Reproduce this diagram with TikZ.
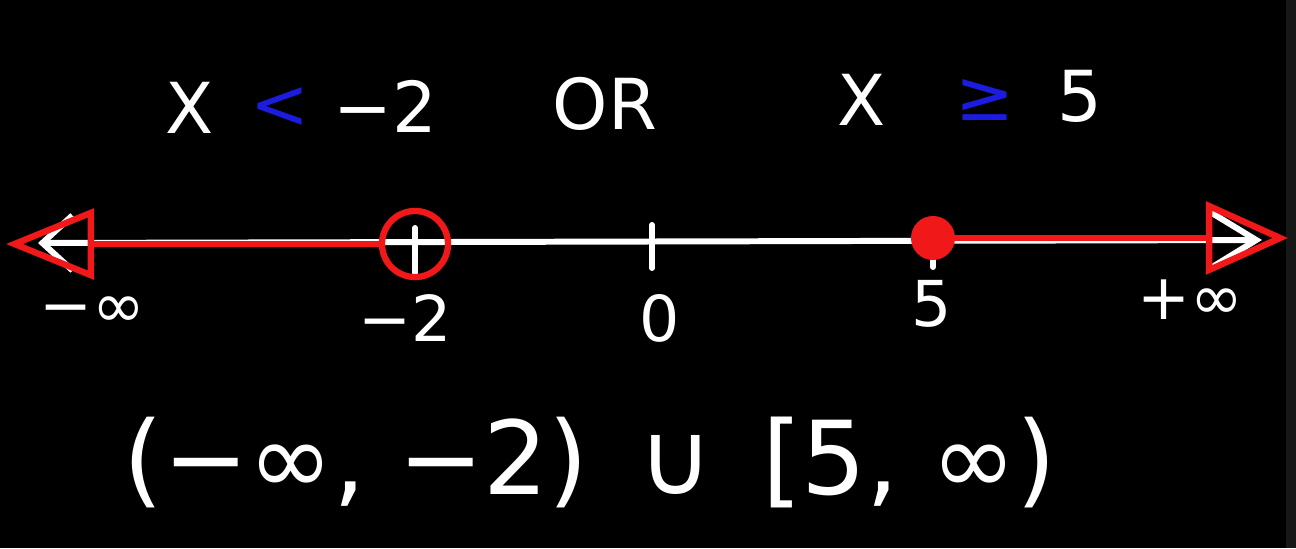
\documentclass[tikz,border=0pt]{standalone}
\usepackage{fontspec}
\setmainfont{DejaVu Sans}
\usepackage{xcolor}
\usetikzlibrary{arrows.meta}
\usetikzlibrary{positioning}
\definecolor{inkred}{HTML}{F01818}
\definecolor{inkblue}{HTML}{1C1CE0}

\begin{document}
\begin{tikzpicture}[x=0.01cm, y=-0.01cm,
		chalk/.style={white, line width=1.7pt, line cap=round},
		redink/.style={inkred, line width=1.8pt, line cap=round},
		toptext/.style={white, font=\fontsize{20}{24}\selectfont, inner sep=0pt},
		ticklabel/.style={white, font=\fontsize{18}{22}\selectfont, inner sep=0pt}]
				\fill[black] (0,0) rectangle (1296,548);
				\fill[gray!18!black] (1286,0) rectangle (1296,548);
				\useasboundingbox (0,0) rectangle (1296,548);
				
				% inequality
				\node[toptext] (xa) at (190,108) {X};
				\node[toptext, text=inkblue] (lt) at (280,108) {<};
				\node[toptext] (mtwo) at (385,106) {−2};
				\node[toptext] (or) at (605,104) {OR};
				\node[toptext] (xb) at (862,100) {X};
				\node[toptext, text=inkblue] (ge) at (985,100) {≥};
				\node[toptext] (five) at (1080,96) {5};
				
				% number line
				\coordinate (lineL) at (38,243);
				\coordinate (lineR) at (1262,240);
				\coordinate (tA) at (415,243);
				\coordinate (tB) at (652,243);
				\coordinate (tC) at (933,241);
				\draw[chalk, {Straight Barb[length=0.3cm, width=0.55cm]}-{Straight Barb[length=0.45cm, width=0.55cm]}] (lineL) -- (lineR);
				\draw[chalk] (tA) ++(0,-15) -- ++(0,47);
				\draw[chalk] (tB) ++(0,-18) -- ++(0,43);
				\draw[chalk] (tC) -- ++(0,26);
				
				\node[ticklabel] (lninf) at (92,312) {−∞};
				\node[ticklabel] (lmtwo) at (405,318) {−2};
				\node[ticklabel] (lzero) at (660,318) {0};
				\node[ticklabel] (lfive) at (932,304) {5};
				\node[ticklabel] (lpinf) at (1190,300) {+∞};
				
				% solution set
				\node[circle, draw=inkred, line width=1.8pt, minimum size=0.66cm, inner sep=0pt] (open) at (415,244) {};
				\node[circle, fill=inkred, minimum size=0.44cm, inner sep=0pt] (closed) at (933,238) {};
				\coordinate (tipL) at (6,244);
				\coordinate (tipR) at (1288,238);
				\draw[redink, -{Triangle[open, length=0.88cm, width=0.7cm]}] (open.west) -- (tipL);
				\draw[redink, -{Triangle[open, length=0.82cm, width=0.72cm]}] (closed.east) -- (tipR);
				
				% interval notation
				\node[white, font=\fontsize{29}{34}\selectfont, inner sep=0pt] (ans) at (590,462) {(−∞, −2)\, ∪ \,[5, ∞)};
			\end{tikzpicture}
\end{document}
